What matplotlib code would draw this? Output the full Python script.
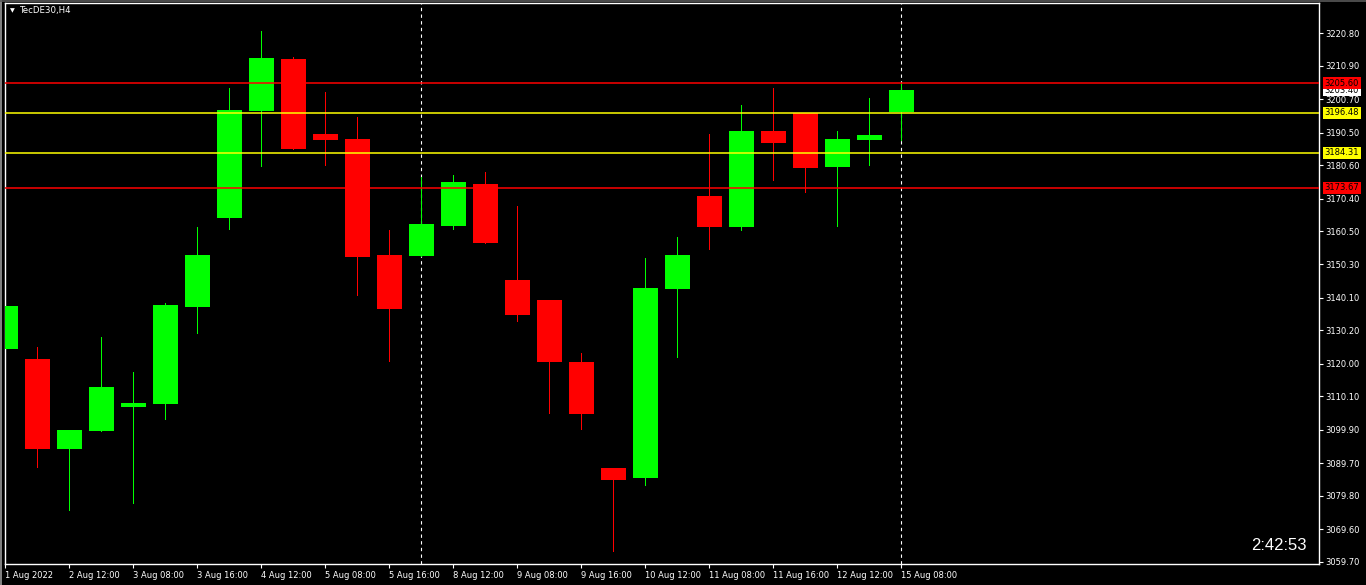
import matplotlib
matplotlib.use("Agg")
import matplotlib.pyplot as plt
from matplotlib.lines import Line2D

# --- chart data ----------------------------------------------------------
opens = [3124.55, 3121.50, 3094.06, 3099.55, 3106.87, 3107.78, 3137.45, 3164.58,
         3197.11, 3212.96, 3190.10, 3188.57, 3153.21, 3152.90, 3162.05, 3174.85,
         3145.59, 3139.49, 3120.59, 3088.27, 3085.22, 3142.84, 3171.20, 3161.74,
         3191.01, 3196.50, 3180.04, 3188.27, 3196.80]
highs = [3156.56, 3125.16, 3099.85, 3128.21, 3117.54, 3138.57, 3161.74, 3204.12,
         3221.50, 3213.57, 3202.90, 3195.28, 3160.83, 3176.90, 3177.60, 3178.51,
         3168.15, 3139.49, 3123.33, 3088.27, 3152.29, 3158.70, 3190.10, 3198.94,
         3204.12, 3196.50, 3191.01, 3201.07, 3205.60]
lows = [3120.59, 3088.57, 3075.46, 3099.40, 3077.60, 3103.21, 3129.52, 3161.23,
        3180.43, 3185.50, 3180.65, 3141.01, 3120.89, 3152.90, 3161.13, 3156.87,
        3133.09, 3105.04, 3100.16, 3062.96, 3083.09, 3122.11, 3155.04, 3160.83,
        3176.07, 3172.42, 3162.05, 3180.65, 3188.27]
closes = [3137.66, 3094.06, 3099.85, 3112.96, 3108.09, 3137.96, 3153.21, 3197.42,
          3213.27, 3185.53, 3188.27, 3152.60, 3136.74, 3162.66, 3175.46, 3156.87,
          3134.92, 3120.59, 3104.73, 3084.61, 3143.15, 3153.21, 3161.74, 3191.01,
          3187.35, 3179.73, 3188.57, 3189.80, 3203.40]

time_tick_idx = [0, 2, 4, 6, 8, 10, 12, 14, 16, 18, 20, 22, 24, 26, 28]
time_labels = ["1 Aug 2022", "2 Aug 12:00", "3 Aug 08:00", "3 Aug 16:00",
               "4 Aug 12:00", "5 Aug 08:00", "5 Aug 16:00", "8 Aug 12:00",
               "9 Aug 08:00", "9 Aug 16:00", "10 Aug 12:00", "11 Aug 08:00",
               "11 Aug 16:00", "12 Aug 12:00", "15 Aug 08:00"]

price_ticks = [3220.80, 3210.90, 3200.70, 3190.50, 3180.60, 3170.40, 3160.50,
               3150.30, 3140.10, 3130.20, 3120.00, 3110.10, 3099.90, 3089.70,
               3079.80, 3069.60, 3059.70]

level_prices = [3205.60, 3196.48, 3184.31, 3173.67]
level_colors = ["#ff0000", "#ffff00", "#ffff00", "#ff0000"]
bid_price = 3203.40
separator_idx = [13, 28]

symbol = "TecDE30,H4"
countdown = "2:42:53"

# --- styling -------------------------------------------------------------
BG = "#000000"
FG = "#ffffff"
UP = "#00ff00"
DOWN = "#ff0000"
W, H = 1366, 585
L_PX, R_PX, T_PX, B_PX = 4.5, 1318.5, 3.0, 564.0

fig = plt.figure(figsize=(W / 100, H / 100), dpi=100, facecolor=BG)
ax = fig.add_axes([L_PX / W, 1 - B_PX / H, (R_PX - L_PX) / W, (B_PX - T_PX) / H])
ax.set_facecolor(BG)

# window border (grey) on the left and top
fig.add_artist(Line2D([0.5 / W, 0.5 / W], [0, 1], color="#9a9a9a", lw=1.2))
fig.add_artist(Line2D([0, 1], [1 - 0.5 / H, 1 - 0.5 / H], color="#5a5a5a", lw=1.2))

# period separators
for s in separator_idx:
    ax.axvline(s, color=FG, lw=0.8, ls=(0, (3, 3)), zorder=1)

# candles (1 px wicks, hard-edged bodies like the terminal draws them)
for i, (o, h, l, c) in enumerate(zip(opens, highs, lows, closes)):
    col = UP if c >= o else DOWN
    ax.vlines(i, l, h, color=col, lw=0.72, antialiased=False, zorder=2)
    ax.bar(i, max(abs(c - o), 0.6), bottom=min(o, c), width=0.78,
           color=col, linewidth=0, antialiased=False, zorder=3)

# horizontal levels drawn over the candles
for p, col in zip(level_prices, level_colors):
    ax.axhline(p, color=col, lw=1.1, zorder=4)

ax.set_xlim(-0.03, 41.04)
ax.set_ylim(3059.0, 3230.0)

for sp in ax.spines.values():
    sp.set_color(FG)
    sp.set_linewidth(1.0)

ax.yaxis.tick_right()
ax.set_yticks(price_ticks)
ax.set_yticklabels([f"{v:.2f}" for v in price_ticks])
ax.set_xticks(time_tick_idx)
ax.set_xticklabels(time_labels)
for lbl in ax.get_xticklabels():
    lbl.set_ha("left")
ax.tick_params(axis="both", colors=FG, labelcolor=FG, labelsize=6,
               length=3, width=0.8, direction="out")
ax.tick_params(axis="y", pad=2)
ax.tick_params(axis="x", pad=2)

# price labels on the right scale
tx = ax.get_yaxis_transform()
x_lab = 1.0 + 6.0 / (R_PX - L_PX)
ax.text(x_lab, bid_price, f"{bid_price:.2f}", transform=tx, fontsize=6,
        color="#000000", va="center", ha="left", clip_on=False, zorder=5,
        bbox=dict(facecolor="#ffffff", edgecolor="none", pad=1.2))
for p, col in zip(level_prices, level_colors):
    ax.text(x_lab, p, f"{p:.2f}", transform=tx, fontsize=6, color="#000000",
            va="center", ha="left", clip_on=False, zorder=6,
            bbox=dict(facecolor=col, edgecolor="none", pad=1.2))

# symbol header and countdown
fig.text(12 / W, 1 - 11 / H, "\u25bc", color=FG, fontsize=4.5, ha="center", va="center")
fig.text(20 / W, 1 - 11 / H, symbol, color=FG, fontsize=6.2, ha="left", va="center")
fig.text(1307 / W, 1 - 545 / H, countdown, color=FG, fontsize=12,
         family="Liberation Sans", ha="right", va="center")

fig.savefig("out.png", dpi=100, facecolor=BG)
